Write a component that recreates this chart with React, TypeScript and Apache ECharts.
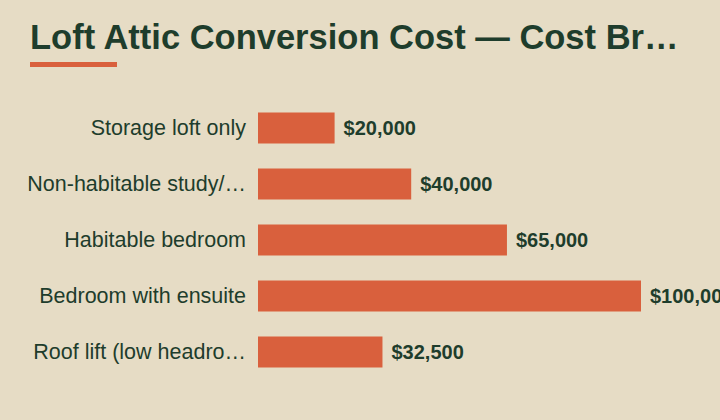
import React, { useEffect, useRef } from "react";
import * as echarts from "echarts";

const titleText = "Loft Attic Conversion Cost — Cost Breakdown by Conversion Type";
const categories = [
  "Storage loft only",
  "Non-habitable study/hobby room",
  "Habitable bedroom",
  "Bedroom with ensuite",
  "Roof lift (low headroom)",
];
const costs = [20000, 40000, 65000, 100000, 32500];

const BG = "#E6DCC5";
const ACCENT = "#D9603D";
const INK = "#1E3D2C";

const fmt = (v: number) => "$" + v.toLocaleString("en-US");

export default function App() {
  const ref = useRef<HTMLDivElement>(null);
  useEffect(() => {
    document.body.style.margin = "0";
    document.body.style.background = BG;
    if (!ref.current) return;
    const chart = echarts.init(ref.current, undefined, { renderer: "svg" });
    chart.setOption({
      animation: false,
      backgroundColor: BG,
      title: {
        text: titleText,
        left: 30,
        top: 19,
        padding: 0,
        textStyle: {
          fontFamily: "Liberation Sans",
          fontWeight: "bold",
          fontSize: 34.5,
          color: INK,
          width: 730,
          overflow: "truncate",
          ellipsis: "…",
        },
      },
      graphic: [
        {
          type: "rect",
          left: 30,
          top: 62,
          shape: { width: 87, height: 5 },
          style: { fill: ACCENT },
        },
      ],
      grid: { left: 258, right: 79, top: 100, bottom: 40, containLabel: false },
      xAxis: {
        type: "value",
        min: 0,
        max: 100000,
        show: false,
      },
      yAxis: {
        type: "category",
        data: categories,
        inverse: true,
        axisLine: { show: false },
        axisTick: { show: false },
        splitLine: { show: false },
        axisLabel: {
          margin: 12,
          width: 226,
          overflow: "truncate",
          ellipsis: "…",
          fontFamily: "Liberation Sans",
          fontSize: 21.5,
          color: INK,
        },
      },
      series: [
        {
          type: "bar",
          data: costs,
          barWidth: 31,
          itemStyle: { color: ACCENT },
          label: {
            show: true,
            position: "right",
            distance: 9,
            formatter: (p: any) => fmt(p.value),
            fontFamily: "Liberation Sans",
            fontWeight: "bold",
            fontSize: 20,
            color: INK,
          },
        },
      ],
    });
    return () => chart.dispose();
  }, []);
  return <div ref={ref} style={{ width: 720, height: 420 }} />;
}
